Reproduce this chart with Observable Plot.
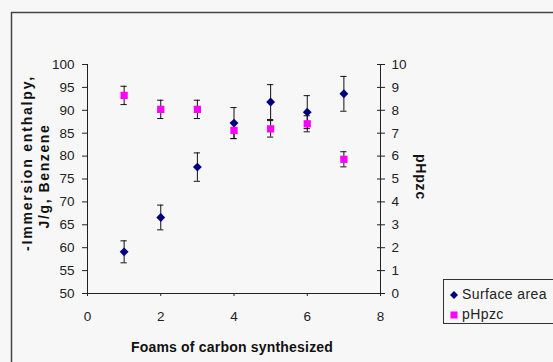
<!DOCTYPE html>
<html>
<head>
<meta charset="utf-8">
<script src="https://cdn.jsdelivr.net/npm/d3@7"></script>
<script src="https://cdn.jsdelivr.net/npm/@observablehq/plot@0.6"></script>
<style>
  html, body { margin: 0; padding: 0; background: #f7f7f7; }
  #wrap { position: relative; width: 553px; height: 362px; overflow: hidden; font-family: "Liberation Sans", Arial, sans-serif; }
  #legend { position: absolute; left: 443px; top: 279px; width: 120px; height: 45px; border: 1px solid #333; box-sizing: border-box; background: #f7f7f7; font-size: 14px; letter-spacing: 0.4px; color: #222; }
  #legend .row { position: absolute; left: 6px; white-space: nowrap; line-height: 16px; }
</style>
</head>
<body>
<div id="wrap"></div>
<script>
// ---- data ----
const foams = [1, 2, 3, 4, 5, 6, 7];
const surfaceArea = [59.1, 66.6, 77.6, 87.2, 91.8, 89.6, 93.6];   // left axis
const surfaceErr  = [2.4, 2.7, 3.1, 3.4, 3.8, 3.6, 3.8];
const pHpzc       = [8.65, 8.04, 8.04, 7.12, 7.19, 7.41, 5.86];   // right axis (0-10)
const pHErr       = [0.4, 0.4, 0.4, 0.35, 0.36, 0.35, 0.33];
const leftTicks  = [50, 55, 60, 65, 70, 75, 80, 85, 90, 95, 100];
const rightTicks = [0, 1, 2, 3, 4, 5, 6, 7, 8, 9, 10];
const xTicks = [0, 2, 4, 6, 8];
const seriesNames = ["Surface area", "pHpzc"];

// map right axis (0..10) onto left scale (50..100)
const toLeft = v => 50 + v * 5;

const sa = foams.map((f, i) => ({x: f, y: surfaceArea[i], lo: surfaceArea[i] - surfaceErr[i], hi: surfaceArea[i] + surfaceErr[i]}));
const ph = foams.map((f, i) => ({x: f, y: toLeft(pHpzc[i]), lo: toLeft(pHpzc[i] - pHErr[i]), hi: toLeft(pHpzc[i] + pHErr[i])}));
const bars = sa.concat(ph);
const cap = 0.085;

const axisColor = "#222";
const tickFont = 13.5;

const frameMark = () => {
  const g = document.createElementNS("http://www.w3.org/2000/svg", "path");
  g.setAttribute("d", "M11.5,362V12.5H553");
  g.setAttribute("fill", "none");
  g.setAttribute("stroke", "#444");
  g.setAttribute("stroke-width", "1.5");
  return g;
};

const chart = Plot.plot({
  width: 553,
  height: 362,
  marginLeft: 87,
  marginRight: 173,
  marginTop: 64,
  marginBottom: 69,
  style: {background: "#f7f7f7", fontFamily: "'Liberation Sans', Arial, sans-serif", fontSize: "13.5px", color: "#222"},
  x: {domain: [0, 8]},
  y: {domain: [50, 100]},
  marks: [
    frameMark,
    // axis lines
    Plot.ruleX([0], {stroke: axisColor}),
    Plot.ruleX([8], {stroke: axisColor}),
    Plot.ruleY([50], {stroke: axisColor}),
    // left axis
    Plot.axisY({anchor: "left", ticks: leftTicks, tickSize: 5, tickPadding: 8, label: null, stroke: axisColor, fill: "#222", fontSize: tickFont}),
    // right axis (cross ticks)
    Plot.axisY({anchor: "right", ticks: rightTicks.map(toLeft), tickFormat: d => (d - 50) / 5, tickSize: 4, tickPadding: 7, label: null, stroke: axisColor, fill: "#222", fontSize: tickFont}),
    Plot.axisY({anchor: "right", ticks: rightTicks.map(toLeft), text: null, tickSize: 4, dx: -4, label: null, stroke: axisColor}),
    // bottom axis
    Plot.axisX({anchor: "bottom", ticks: xTicks, tickSize: 3, tickPadding: 15, label: null, stroke: axisColor, fill: "#222", fontSize: tickFont}),
    // error bars
    Plot.ruleX(bars, {x: "x", y1: "lo", y2: "hi", stroke: "#111", strokeWidth: 1}),
    Plot.ruleY(bars, {y: "hi", x1: d => d.x - cap, x2: d => d.x + cap, stroke: "#111", strokeWidth: 1}),
    Plot.ruleY(bars, {y: "lo", x1: d => d.x - cap, x2: d => d.x + cap, stroke: "#111", strokeWidth: 1}),
    // points
    Plot.dot(sa, {x: "x", y: "y", symbol: "diamond2", r: 4, fill: "#000080", stroke: "none"}),
    Plot.dot(ph, {x: "x", y: "y", symbol: "square", r: 4.1, fill: "#ff00ff", stroke: "none"})
  ]
});

const ns = "http://www.w3.org/2000/svg";
function addText(str, x, y, rot, size, spacing) {
  const t = document.createElementNS(ns, "text");
  t.textContent = str;
  t.setAttribute("text-anchor", "middle");
  t.setAttribute("font-weight", "bold");
  t.setAttribute("font-size", size);
  t.setAttribute("letter-spacing", spacing);
  t.setAttribute("fill", "#111");
  t.setAttribute("transform", `translate(${x},${y}) rotate(${rot})`);
  t.setAttribute("dy", "0.35em");
  chart.appendChild(t);
}
addText("-Immersion enthalpy,", 27, 163, -90, 14, 1.8);
addText("J/g, Benzene", 44, 176, -90, 14, 1.6);
addText("pHpzc", 421, 177, 90, 14, 0.8);
addText("Foams of carbon synthesized", 232, 347, 0, 14, 0.2);

document.getElementById("wrap").appendChild(chart);

// legend
const legend = document.createElement("div");
legend.id = "legend";
legend.innerHTML = `
  <div class="row" style="top:6px"><svg width="8" height="8" style="margin-right:4px;vertical-align:0px"><path d="M4,0L8,4L4,8L0,4Z" fill="#000080"/></svg>${seriesNames[0]}</div>
  <div class="row" style="top:26px"><svg width="8" height="8" style="margin-right:4px;vertical-align:0px"><rect x="0.5" y="0.5" width="7" height="7" fill="#ff00ff"/></svg>${seriesNames[1]}</div>`;
document.getElementById("wrap").appendChild(legend);
</script>
</body>
</html>
